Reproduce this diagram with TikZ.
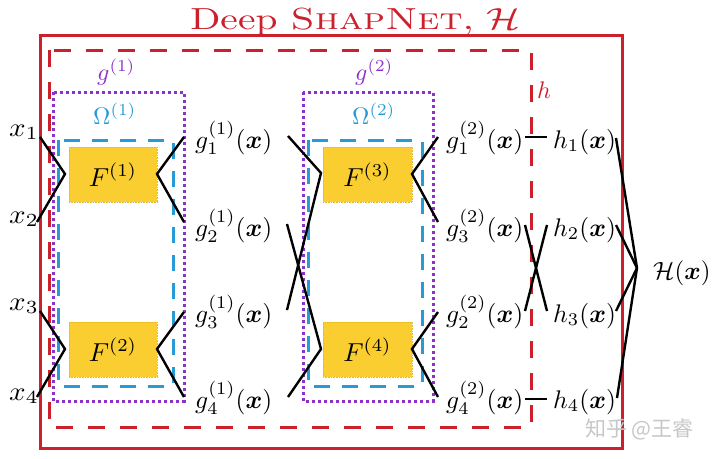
\documentclass[tikz,border=0pt]{standalone}
\usepackage{fontspec}
\usepackage{bm}
\newfontfamily\cjkwm{Noto Sans CJK SC}
\definecolor{dred}{RGB}{204,32,44}
\definecolor{dpurple}{RGB}{140,50,200}
\definecolor{dblue}{RGB}{40,155,215}
\definecolor{dgold}{RGB}{250,205,48}
\definecolor{dgoldline}{RGB}{230,185,40}
\newcommand{\mlab}[1]{\scalebox{2.55}{#1}}
\newcommand{\xlab}[1]{\scalebox{2.9}[2.65]{#1}}
\newcommand{\glab}[1]{\scalebox{2.4}{#1}}
\newcommand{\flabtxt}[1]{\scalebox{2.6}{#1}}
\begin{document}
\begin{tikzpicture}[x=1pt,y=-1pt,
  lab/.style={anchor=base west,inner sep=0pt},
  grp/.style={anchor=base west,inner sep=0pt},
  fbox/.style={fill=dgold,draw=dgoldline,densely dotted,line width=0.6pt},
  outerbox/.style={draw=dred,line width=3pt},
  hbox/.style={draw=dred,line width=3pt,dash pattern=on 17pt off 15pt},
  gbox/.style={draw=dpurple,line width=3pt,dash pattern=on 3pt off 3pt},
  obox/.style={draw=dblue,line width=3pt,dash pattern=on 16pt off 12pt},
  wire/.style={draw=black,line width=2.4pt,line join=miter}
]
\useasboundingbox (0,0) rectangle (720,458);
\fill[white] (0,0) rectangle (720,458);

% title
\node[anchor=base,inner sep=0pt,text=dred] (title) at (355.5,29.5) {\scalebox{3.95}[3.05]{Deep \textsc{ShapNet}, $\mathcal{H}$}};

% boxes
\draw[outerbox] (40,35) rectangle (622,448);
\draw[hbox] (49,50) rectangle (531,427);
\draw[gbox] (53,92) rectangle (184,401);
\draw[gbox] (303,92) rectangle (433,401);
\draw[obox] (58,140) rectangle (173,386);
\draw[obox] (308,140) rectangle (422,386);

% F boxes
\node[fbox,minimum width=88pt,minimum height=55pt] (F1) at (113,174.5) {\flabtxt{$F^{(1)}$}};
\node[fbox,minimum width=88pt,minimum height=55pt] (F2) at (113,349.5) {\flabtxt{$F^{(2)}$}};
\node[fbox,minimum width=89pt,minimum height=55pt] (F3) at (367.5,174.5) {\flabtxt{$F^{(3)}$}};
\node[fbox,minimum width=89pt,minimum height=55pt] (F4) at (367.5,349.5) {\flabtxt{$F^{(4)}$}};

% group labels
\node[grp,text=dpurple] (lg1) at (97,80) {\glab{$g^{(1)}$}};
\node[grp,text=dpurple] (lg2) at (355,80) {\glab{$g^{(2)}$}};
\node[grp,text=dblue] (lo1) at (93,124) {\glab{$\Omega^{(1)}$}};
\node[grp,text=dblue] (lo2) at (352,124) {\glab{$\Omega^{(2)}$}};
\node[grp,text=dred] (lh) at (537,98) {\glab{$h$}};

% inputs
\node[lab] (x1) at (9,136) {\xlab{$x_1$}};
\node[lab] (x2) at (9,223) {\xlab{$x_2$}};
\node[lab] (x3) at (9,310) {\xlab{$x_3$}};
\node[lab] (x4) at (9,400) {\xlab{$x_4$}};

% g(1) outputs
\node[lab] (ga1) at (195,148) {\mlab{$g_1^{(1)}(\bm{x})$}};
\node[lab] (ga2) at (195,236) {\mlab{$g_2^{(1)}(\bm{x})$}};
\node[lab] (ga3) at (195,322) {\mlab{$g_3^{(1)}(\bm{x})$}};
\node[lab] (ga4) at (195,408) {\mlab{$g_4^{(1)}(\bm{x})$}};

% g(2) outputs
\node[lab] (gb1) at (446,148) {\mlab{$g_1^{(2)}(\bm{x})$}};
\node[lab] (gb3) at (446,236) {\mlab{$g_3^{(2)}(\bm{x})$}};
\node[lab] (gb2) at (446,322) {\mlab{$g_2^{(2)}(\bm{x})$}};
\node[lab] (gb4) at (446,408) {\mlab{$g_4^{(2)}(\bm{x})$}};

% h outputs
\node[lab] (h1) at (553,148) {\mlab{$h_1(\bm{x})$}};
\node[lab] (h2) at (553,236) {\mlab{$h_2(\bm{x})$}};
\node[lab] (h3) at (553,322) {\mlab{$h_3(\bm{x})$}};
\node[lab] (h4) at (553,408) {\mlab{$h_4(\bm{x})$}};

% final
\node[lab] (H) at (653,279) {\scalebox{2.5}{$\mathcal{H}(\bm{x})$}};

% wire endpoints
\coordinate (x1o) at (40,137);  \coordinate (x2o) at (37,222);
\coordinate (x3o) at (40,311);  \coordinate (x4o) at (37,397);
\coordinate (F1i) at (65,174);  \coordinate (F2i) at (65,349);
\coordinate (F1o) at (157,174); \coordinate (F2o) at (157,349);
\coordinate (ga1i) at (184,137); \coordinate (ga2i) at (184,222);
\coordinate (ga3i) at (184,312); \coordinate (ga4i) at (184,397);
\coordinate (ga1o) at (288,136); \coordinate (ga2o) at (287,224);
\coordinate (ga3o) at (287,310); \coordinate (ga4o) at (288,397);
\coordinate (F3i) at (321,173);  \coordinate (F4i) at (321,349);
\coordinate (F3o) at (412,174);  \coordinate (F4o) at (412,349);
\coordinate (gb1i) at (438,137); \coordinate (gb3i) at (438,222);
\coordinate (gb2i) at (438,312); \coordinate (gb4i) at (438,397);
\coordinate (gb1o) at (525,137); \coordinate (gb3o) at (525,225);
\coordinate (gb2o) at (525,311); \coordinate (gb4o) at (525,399);
\coordinate (h1i) at (547,137);  \coordinate (h2i) at (547,225);
\coordinate (h3i) at (547,311);  \coordinate (h4i) at (547,399);
\coordinate (h1o) at (616,138);  \coordinate (h2o) at (616,225);
\coordinate (h3o) at (616,311);  \coordinate (h4o) at (617,398);
\coordinate (Hi) at (637,268);

% wires
\draw[wire] (x1o) -- (F1i) -- (x2o);
\draw[wire] (x3o) -- (F2i) -- (x4o);
\draw[wire] (ga1i) -- (F1o) -- (ga2i);
\draw[wire] (ga3i) -- (F2o) -- (ga4i);
\draw[wire] (ga1o) -- (F3i) -- (ga3o);
\draw[wire] (ga2o) -- (F4i) -- (ga4o);
\draw[wire] (gb1i) -- (F3o) -- (gb3i);
\draw[wire] (gb2i) -- (F4o) -- (gb4i);
\draw[wire] (gb1o) -- (h1i);
\draw[wire] (gb3o) -- (h3i);
\draw[wire] (gb2o) -- (h2i);
\draw[wire] (gb4o) -- (h4i);
\draw[wire] (h1o) -- (Hi);
\draw[wire] (h2o) -- (Hi);
\draw[wire] (h3o) -- (Hi);
\draw[wire] (h4o) -- (Hi);

% watermark
\node[anchor=base west,inner sep=0pt,text=black!22,font=\cjkwm\fontsize{21}{24}\selectfont] (wm) at (585,436) {知乎 @王睿};
\end{tikzpicture}
\end{document}
